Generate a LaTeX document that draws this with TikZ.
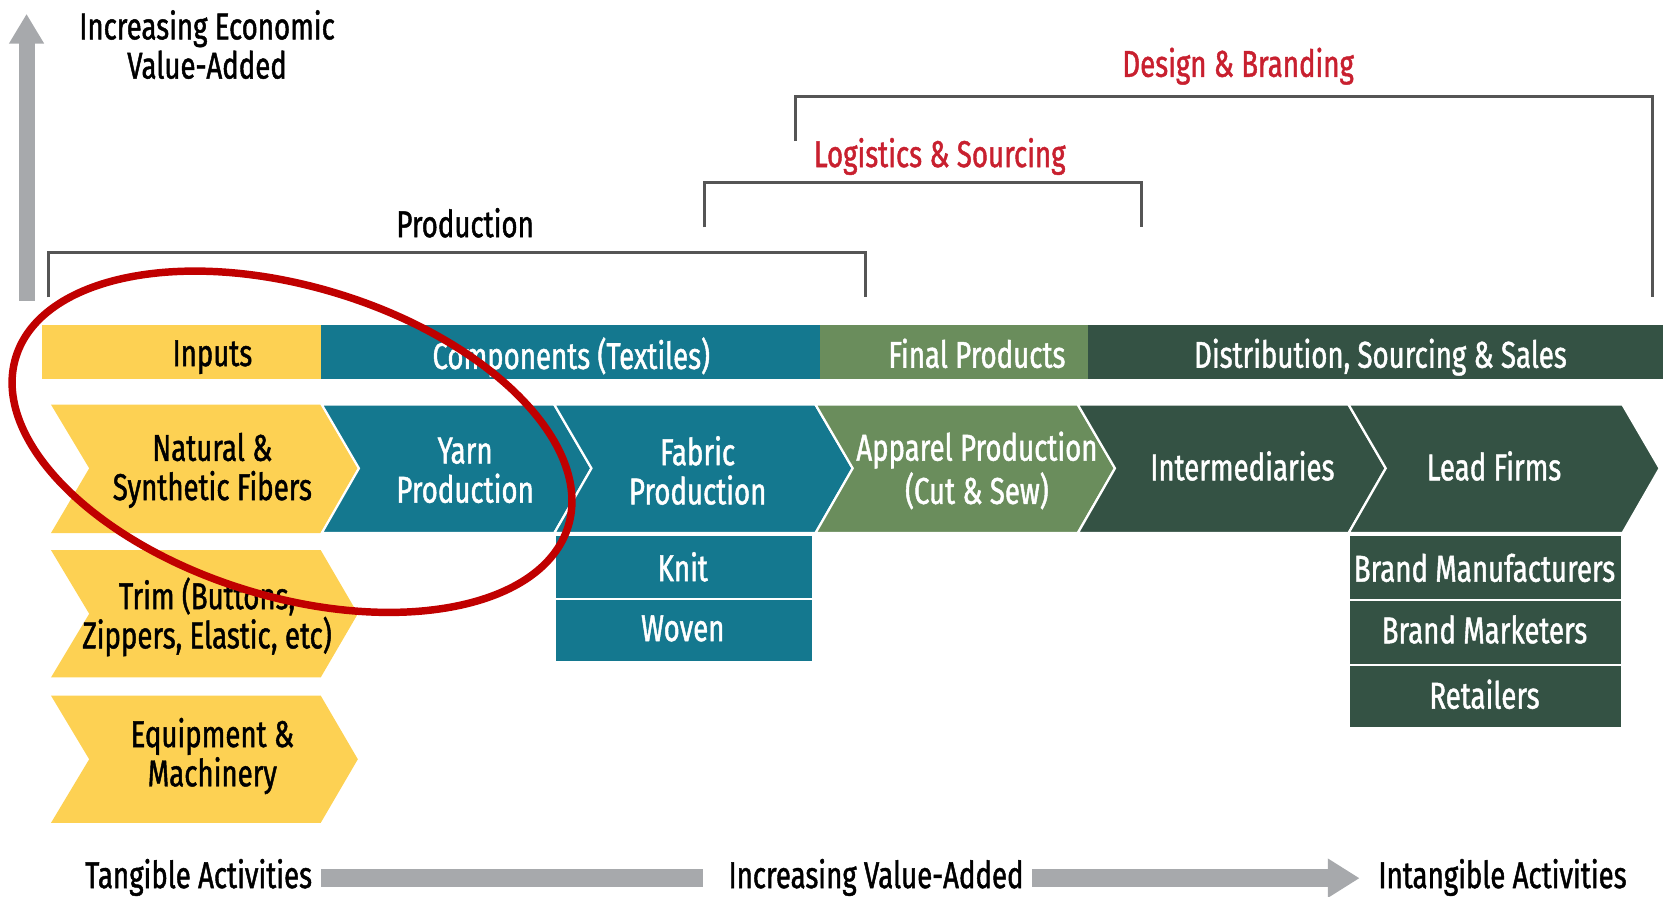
\documentclass[tikz,border=0pt]{standalone}
\usepackage{fontspec}
\setsansfont{Fira Sans}[FakeStretch=0.74, FakeBold=1.2]
\usetikzlibrary{arrows.meta}

\definecolor{inputyellow}{RGB}{253,209,83}
\definecolor{textileteal}{RGB}{20,120,143}
\definecolor{productgreen}{RGB}{106,141,92}
\definecolor{salesgreen}{RGB}{52,82,68}
\definecolor{valuegray}{RGB}{167,169,172}
\definecolor{labelred}{RGB}{200,32,47}
\definecolor{ringred}{RGB}{192,0,0}
\definecolor{bracketgray}{RGB}{85,85,85}

\begin{document}
\begin{tikzpicture}[x=0.01cm, y=-0.01cm,
    lbl/.style={font=\fontsize{10}{10.5}\selectfont, align=center, inner sep=0pt},
    oneline/.style={text depth=0.25em},
    wlbl/.style={lbl, text=white},
    rlbl/.style={lbl, oneline, text=labelred},
    bracket/.style={draw=bracketgray, line width=0.8pt},
    band/.style={draw=white, line width=0.6pt}]
    \sffamily
    \useasboundingbox (0,0) rectangle (1568,844);

    % value-added axis
    \coordinate (vbase) at (25,283);
    \coordinate (vtop) at (25,13);
    \draw[valuegray, line width=0.15cm, -{Triangle[length=0.28cm, width=0.31cm]}] (vbase) -- (vtop);
    \node[lbl] (econ) at (195,42) {Increasing Economic\\Value-Added};

    % brackets
    \draw[bracket] (46,280) |- (815,238) -- (815,280); \node[lbl, oneline] (prod) at (438,214) {Production};
    \draw[bracket] (663,214) |- (1075,172) -- (1075,214); \node[rlbl] (logi) at (885,148) {Logistics \& Sourcing};
    \draw[bracket] (749,133) |- (1556,91) -- (1556,280); \node[rlbl] (design) at (1166,63) {Design \& Branding};

    % stage bar
    \fill[inputyellow] (40,306) rectangle (302,357); \node[lbl, oneline] (inputs) at (200,337) {Inputs};
    \fill[textileteal] (302,306) rectangle (772,357); \node[wlbl, oneline] (comp) at (538,337) {Components (Textiles)};
    \fill[productgreen] (772,306) rectangle (1025,357); \node[wlbl, oneline] (final) at (920,337) {Final Products};
    \fill[salesgreen] (1025,306) rectangle (1566,357); \node[wlbl, oneline] (dist) at (1300,337) {Distribution, Sourcing \& Sales};

    % input chevrons
    \foreach \yt/\ym/\yb in {381/441/502, 518/578/638, 655/715/775}
        \fill[inputyellow] (48,\yt) -- (302,\yt) -- (337,\ym) -- (302,\yb) -- (48,\yb) -- (84,\ym) -- cycle;
    \node[lbl] (fibers) at (200,443) {Natural \&\\Synthetic Fibers};
    \node[lbl] (trim) at (195,581) {Trim (Buttons,\\Zippers, Elastic, etc)};
    \node[lbl] (equip) at (200,712) {Equipment \&\\Machinery};

    % chain chevrons
    \foreach \xl/\xr/\col in {303/522/textileteal, 522/768/textileteal, 768/1015/productgreen, 1015/1270/salesgreen, 1270/1528/salesgreen}
        \filldraw[band, fill=\col] (\xl,381) -- (\xr,381) -- (\xr+35,441) -- (\xr,502) -- (\xl,502) -- (\xl+35,441) -- cycle;
    \node[wlbl] (yarn) at (438,443) {Yarn\\Production};
    \node[wlbl] (fabric) at (657,443) {Fabric\\Production};
    \node[wlbl] (apparel) at (920,443) {Apparel Production\\(Cut \& Sew)};
    \node[wlbl, oneline] (inter) at (1170,443) {Intermediaries};
    \node[wlbl, oneline] (lead) at (1407,443) {Lead Firms};

    % sub-boxes
    \foreach \yt/\yb in {504/564, 564/624}
        \filldraw[band, fill=textileteal] (523,\yt) rectangle (766,\yb);
    \node[wlbl, oneline] (knit) at (643,538) {Knit};
    \node[wlbl, oneline] (woven) at (643,596) {Woven};
    \foreach \yt/\yb in {504/565, 565/626, 626/686}
        \filldraw[band, fill=salesgreen] (1270,\yt) rectangle (1528,\yb);
    \node[wlbl, oneline] (brandman) at (1398,539) {Brand Manufacturers};
    \node[wlbl, oneline] (brandmark) at (1398,597) {Brand Marketers};
    \node[wlbl, oneline] (retail) at (1398,658) {Retailers};

    % tangible -> intangible
    \node[lbl, oneline] (tang) at (187,827) {Tangible Activities};
    \node[lbl, oneline] (incr) at (825,827) {Increasing Value-Added};
    \node[lbl, oneline] (intang) at (1415,827) {Intangible Activities};
    \draw[valuegray, line width=0.17cm, shorten <=0.08cm, shorten >=0.23cm] (tang.east) -- (incr.west);
    \draw[valuegray, line width=0.17cm, shorten <=0.07cm, shorten >=0.17cm, -{Triangle[length=0.3cm, width=0.35cm]}] (incr.east) -- (intang.west);

    % highlight
    \draw[ringred, line width=2pt, rotate around={-17:(275,416)}] (275,416) ellipse [x radius=272, y radius=146];
\end{tikzpicture}
\end{document}
